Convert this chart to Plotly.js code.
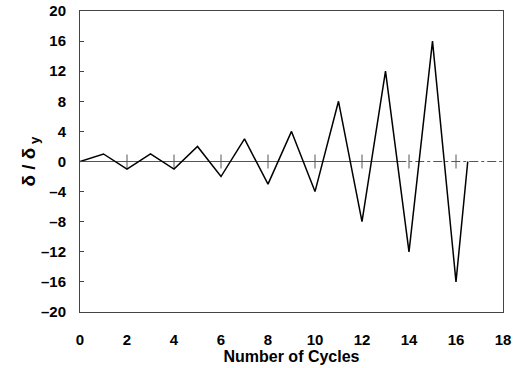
<!DOCTYPE html>
<html><head><meta charset="utf-8">
<script src="https://cdn.plot.ly/plotly-3.0.1.min.js"></script>
<style>html,body{margin:0;padding:0;background:#fff}#c{width:522px;height:368px}</style>
</head><body><div id="c"></div>
<script>
const cycles = [0, 1, 2, 3, 4, 5, 6, 7, 8, 9, 10, 11, 12, 13, 14, 15, 16, 16.5];
const ratio  = [0, 1, -1, 1, -1, 2, -2, 3, -3, 4, -4, 8, -8, 12, -12, 16, -16, 0];
const zeroSolidX = [0, 13.5];
const zeroDashX = [13.5, 18];
const tickMarkX = [2, 4, 6, 8, 10, 12, 14, 16];
const xTicks = [0, 2, 4, 6, 8, 10, 12, 14, 16, 18];
const yTicks = [-20, -16, -12, -8, -4, 0, 4, 8, 12, 16, 20];

const traces = [
  {x: zeroSolidX, y: zeroSolidX.map(() => 0), mode: 'lines', line: {color: '#555', width: 1}, hoverinfo: 'skip'},
  {x: zeroDashX, y: zeroDashX.map(() => 0), mode: 'lines', line: {color: '#555', width: 1, dash: 'dashdot'}, hoverinfo: 'skip'},
  {x: tickMarkX, y: tickMarkX.map(() => 0), mode: 'markers', marker: {symbol: 'line-ns', size: 10, line: {color: '#555', width: 1}}, hoverinfo: 'skip'},
  {x: cycles, y: ratio, mode: 'lines', line: {color: '#000', width: 1.5}}
];

const fam = 'Liberation Sans, Arial, sans-serif';
const layout = {
  width: 522, height: 368,
  margin: {l: 80, r: 19, t: 11, b: 56},
  showlegend: false,
  paper_bgcolor: '#fff', plot_bgcolor: '#fff',
  font: {family: fam, size: 14, color: '#000'},
  xaxis: {
    range: [0, 18], tickvals: xTicks, ticktext: xTicks.map(v => '<b>' + v + '</b>'),
    showgrid: false, zeroline: false, showline: true, mirror: true,
    linecolor: '#444', linewidth: 1, ticks: '', ticklen: 0, ticklabelstandoff: 14,
    tickfont: {family: fam, size: 15, color: '#000'},
    title: {text: '<b>Number of Cycles</b>', font: {family: fam, size: 16, color: '#000'}, standoff: 3}
  },
  yaxis: {
    range: [-20, 20], tickvals: yTicks, ticktext: yTicks.map(v => '<b>' + (v < 0 ? '\u2013' + Math.abs(v) : String(v)) + '</b>'),
    showgrid: false, zeroline: false, showline: true, mirror: true,
    linecolor: '#444', linewidth: 1, ticks: 'inside', ticklen: 4, tickcolor: '#444', ticklabelstandoff: 10,
    tickfont: {family: fam, size: 15, color: '#000'},
    title: {text: '<b>\u03b4 / \u03b4<sub> y</sub></b>', font: {family: fam, size: 19, color: '#000'}, standoff: 0}
  }
};
Plotly.newPlot('c', traces, layout, {staticPlot: true});
</script></body></html>
